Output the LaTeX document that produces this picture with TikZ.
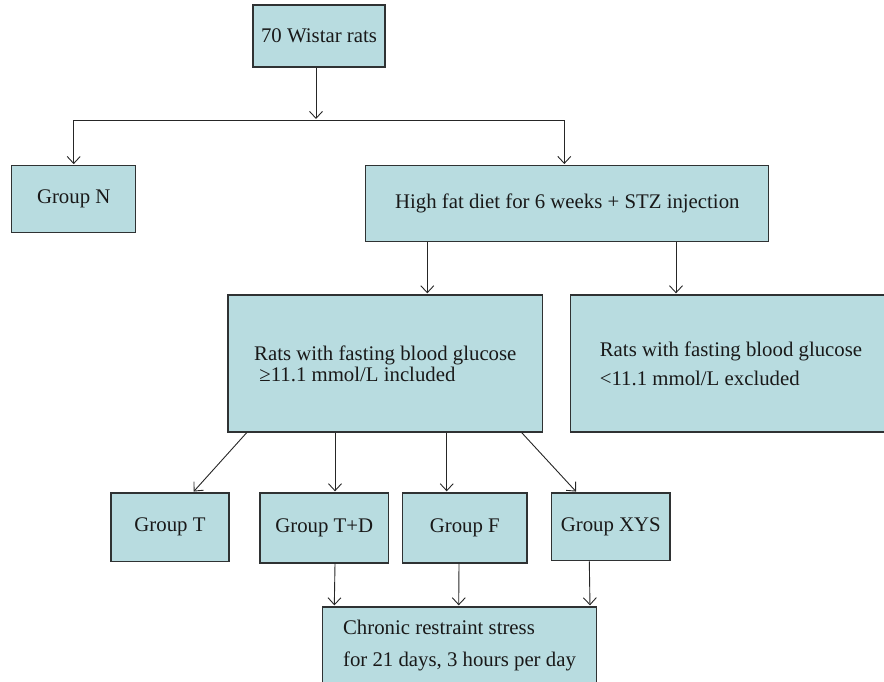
\documentclass[tikz,border=0pt]{standalone}
\usepackage{fontspec}
\setmainfont{Liberation Serif}
\usetikzlibrary{arrows.meta,positioning}
\definecolor{boxfill}{HTML}{B8DCE0}
\definecolor{boxline}{HTML}{2F3233}
\tikzset{
	box/.style={draw=boxline, fill=boxfill, line width=1.3pt, inner sep=0pt,
			align=left, text=black!90, font=\fontsize{20.8}{21.3}\selectfont},
	flow/.style={-{Straight Barb[length=7pt,width=13pt]}, line width=0.9pt,
			draw=black!85, shorten >=1pt}
}

\begin{document}
\begin{tikzpicture}[x=1pt,y=-1pt]
    \useasboundingbox (0,0) rectangle (884,682);

    % Boxes
    \node[box, minimum width=132pt, minimum height=62pt] (wistar) at (319,36) {70 Wistar rats};
    \node[box, minimum width=124pt, minimum height=67pt] (groupN) at (73.7,199.3) {Group N};
    \node[box, minimum width=403pt, minimum height=76pt] (hfd) at (567.3,203.7) {High fat diet for 6 weeks + STZ injection};
    \node[box, minimum width=314.7pt, minimum height=137pt] (incl) at (385.3,363.5)
      {Rats with fasting blood glucose\\\ ≥11.1 mmol/L included};
    \node[box, minimum width=321pt, minimum height=137pt, font=\fontsize{20.8}{28.7}\selectfont] (excl) at (731,363.5)
      {Rats with fasting blood glucose\\<11.1 mmol/L excluded};
    \node[box, minimum width=118pt, minimum height=68.7pt] (grpT) at (170,527.3) {Group T};
    \node[box, minimum width=128.7pt, minimum height=70pt] (grpTD) at (324.3,528) {Group T+D};
    \node[box, minimum width=124.3pt, minimum height=70pt] (grpF) at (464.8,528) {Group F};
    \node[box, minimum width=118.3pt, minimum height=67.7pt] (grpXYS) at (610.8,526.8) {Group XYS};
    \node[box, minimum width=274.4pt, minimum height=78pt, font=\fontsize{20.8}{32}\selectfont] (chronic) at (459.5,646)
      {Chronic restraint stress\\for 21 days, 3 hours per day};

    % Split below the first box
    \coordinate (split) at (316,120);
    \draw[flow] (wistar.south -| split) -- (split);
    \draw[flow] (split) -| (groupN.north);
    \draw[flow] (split) -| ([xshift=-3pt]hfd.north);

    % Screening
    \coordinate (inclIn) at ([xshift=42pt]incl.north);
    \coordinate (exclIn) at ([xshift=-55pt]excl.north);
    \draw[flow] (hfd.south -| inclIn) -- (inclIn);
    \draw[flow] (hfd.south -| exclIn) -- (exclIn);

    % Groups
    \draw[flow] ([xshift=-138.6pt]incl.south) -- ([xshift=23pt]grpT.north);
    \draw[flow] ([xshift=-50.3pt]incl.south) -- ([xshift=10.7pt]grpTD.north);
    \draw[flow] ([xshift=61.4pt]incl.south) -- ([xshift=-18.1pt]grpF.north);
    \draw[flow] ([xshift=136.4pt]incl.south) -- ([xshift=-34.1pt]grpXYS.north);

    % Stress
    \foreach \g/\a/\b in {grpTD/10.7/-125.2, grpF/-5.8/-0.8, grpXYS/-21.5/130.5}
      \draw[flow] ([xshift=\a pt]\g.south) -- ([xshift=\b pt]chronic.north);
\end{tikzpicture}
\end{document}
